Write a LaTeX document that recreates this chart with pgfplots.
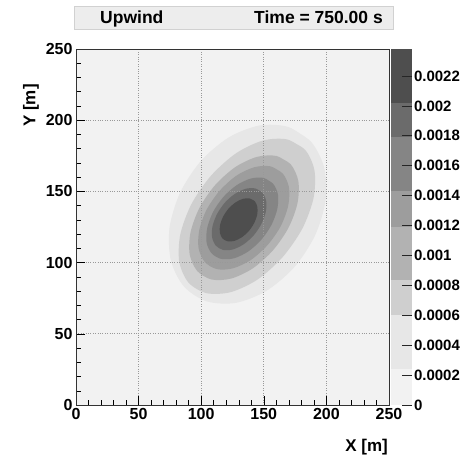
\documentclass[border=0pt]{standalone}
\usepackage{pgfplots}
\pgfplotsset{compat=1.18}
\usepackage{fontspec}
\setmainfont{Liberation Sans}
\definecolor{c0}{HTML}{F2F2F2}
\definecolor{c1}{HTML}{E7E7E7}
\definecolor{c2}{HTML}{CFCFCF}
\definecolor{c3}{HTML}{B2B2B2}
\definecolor{c4}{HTML}{9D9D9D}
\definecolor{c5}{HTML}{858585}
\definecolor{c6}{HTML}{6B6B6B}
\definecolor{c7}{HTML}{4E4E4E}
\begin{document}
\begin{tikzpicture}
\path[use as bounding box] (0pt,0pt) rectangle (464pt,463pt);
% title box
\draw[draw=black!18, fill=black!7] (74pt,434pt) rectangle (393pt,457pt);
\node[anchor=base west, font=\bfseries\fontsize{17.5}{17.5}\selectfont, inner sep=0] at (100pt,439pt) {Upwind};
\node[anchor=base east, font=\bfseries\fontsize{17.5}{17.5}\selectfont, inner sep=0] at (383pt,439pt) {Time = 750.00 s};
\begin{axis}[
  at={(76pt,58pt)}, anchor=south west, scale only axis,
  width=313pt, height=356pt,
  xmin=0, xmax=250, ymin=0, ymax=250,
  enlargelimits=false,
  xtick={0,50,...,250}, ytick={0,50,...,250},
  minor tick num=4,
  tick pos=left, tick align=inside,
  major tick length=9pt, minor tick length=4.5pt,
  tick style={black, line width=0.5pt},
  grid=major,
  grid style={dotted, black!40, line width=0.7pt},
  axis line style={black!80, line width=0.6pt},
  axis background/.style={fill=c0},
  axis on top,
  /pgf/number format/assume math mode=true,
  ticklabel style={font=\bfseries\fontsize{16}{16}\selectfont},
]
\addplot[fill=c1, draw=none, smooth] coordinates {
(187.8,184.8) (169.7,195.2) (146.6,196.3) (122.0,187.9) (99.7,171.3) (83.1,149.0)
(74.7,124.5) (75.8,101.4) (86.2,83.2) (104.4,72.8) (127.5,71.7) (152.0,80.1)
(174.3,96.7) (190.9,119.0) (199.3,143.6) (198.2,166.7) (187.8,184.8) (169.7,195.2)};
\addplot[fill=c2, draw=none, smooth] coordinates {
(183.1,179.1) (168.6,186.5) (149.2,185.7) (127.9,176.8) (107.9,161.1) (92.2,141.1)
(83.3,119.8) (82.5,100.4) (89.9,85.9) (104.4,78.5) (123.8,79.3) (145.2,88.2)
(165.1,103.9) (180.8,123.9) (189.7,145.2) (190.5,164.6) (183.1,179.1) (168.6,186.5)};
\addplot[fill=c3, draw=none, smooth] coordinates {
(171.6,168.9) (160.0,174.9) (144.4,174.2) (127.3,167.1) (111.2,154.5) (98.6,138.4)
(91.5,121.3) (90.8,105.8) (96.8,94.1) (108.5,88.1) (124.0,88.8) (141.1,95.9)
(157.2,108.5) (169.8,124.6) (176.9,141.7) (177.6,157.2) (171.6,168.9) (160.0,174.9)};
\addplot[fill=c4, draw=none, smooth] coordinates {
(165.1,162.6) (155.4,167.6) (142.5,167.0) (128.2,161.1) (114.9,150.6) (104.4,137.3)
(98.5,123.0) (97.9,110.1) (102.9,100.4) (112.6,95.4) (125.5,96.0) (139.8,101.9)
(153.1,112.4) (163.6,125.7) (169.5,140.0) (170.1,152.9) (165.1,162.6) (155.4,167.6)};
\addplot[fill=c5, draw=none, smooth] coordinates {
(157.3,155.5) (149.7,159.5) (139.5,159.0) (128.2,154.3) (117.7,146.1) (109.5,135.6)
(104.8,124.3) (104.3,114.1) (108.3,106.5) (115.9,102.6) (126.1,103.0) (137.4,107.7)
(147.9,115.9) (156.1,126.4) (160.8,137.7) (161.3,147.9) (157.3,155.5) (149.7,159.5)};
\addplot[fill=c6, draw=none, smooth] coordinates {
(148.9,149.1) (143.1,152.1) (135.4,151.8) (126.8,148.2) (118.8,142.0) (112.6,134.0)
(109.0,125.4) (108.7,117.7) (111.7,111.9) (117.5,108.9) (125.2,109.2) (133.8,112.8)
(141.8,119.0) (148.0,127.0) (151.6,135.6) (151.9,143.3) (148.9,149.1) (143.1,152.1)};
\addplot[fill=c7, draw=none, smooth] coordinates {
(142.9,143.0) (138.8,145.0) (133.4,144.8) (127.5,142.3) (121.9,138.0) (117.6,132.4)
(115.1,126.5) (114.9,121.1) (116.9,117.0) (121.0,115.0) (126.4,115.2) (132.3,117.7)
(137.9,122.0) (142.2,127.6) (144.7,133.5) (144.9,138.9) (142.9,143.0) (138.8,145.0)};
\end{axis}
% colour bar
\begin{axis}[
  at={(391pt,58pt)}, anchor=south west, scale only axis,
  width=21pt, height=356pt,
  xmin=0, xmax=1, ymin=0, ymax=0.00238,
  enlargelimits=false,
  xtick=\empty,
  ytick={0,0.0002,0.0004,0.0006,0.0008,0.001,0.0012,0.0014,0.0016,0.0018,0.002,0.0022},
  yticklabels={0,0.0002,0.0004,0.0006,0.0008,0.001,0.0012,0.0014,0.0016,0.0018,0.002,0.0022},
  scaled y ticks=false,
  ytick pos=right, yticklabel pos=right, tick align=inside,
  major tick length=10pt,
  tick style={black!85, line width=0.6pt},
  axis line style={draw=none},
  axis on top,
  yticklabel style={font=\bfseries\fontsize{15}{15}\selectfont, xshift=-1.5pt},
]
\addplot[fill=c0, draw=none] coordinates {(0,0) (1,0) (1,0.00024) (0,0.00024)};
\addplot[fill=c1, draw=none] coordinates {(0,0.00024) (1,0.00024) (1,0.0006) (0,0.0006)};
\addplot[fill=c2, draw=none] coordinates {(0,0.0006) (1,0.0006) (1,0.000833) (0,0.000833)};
\addplot[fill=c3, draw=none] coordinates {(0,0.000833) (1,0.000833) (1,0.00119) (0,0.00119)};
\addplot[fill=c4, draw=none] coordinates {(0,0.00119) (1,0.00119) (1,0.00143) (0,0.00143)};
\addplot[fill=c5, draw=none] coordinates {(0,0.00143) (1,0.00143) (1,0.00179) (0,0.00179)};
\addplot[fill=c6, draw=none] coordinates {(0,0.00179) (1,0.00179) (1,0.00202) (0,0.00202)};
\addplot[fill=c7, draw=none] coordinates {(0,0.00202) (1,0.00202) (1,0.00238) (0,0.00238)};
\end{axis}
% axis titles
\node[anchor=base east, font=\bfseries\fontsize{17}{17}\selectfont, inner sep=0] at (388pt,11pt) {X [m]};
\node[rotate=90, font=\bfseries\fontsize{17}{17}\selectfont, inner sep=0] at (31pt,357.5pt) {Y [m]};
\end{tikzpicture}
\end{document}
